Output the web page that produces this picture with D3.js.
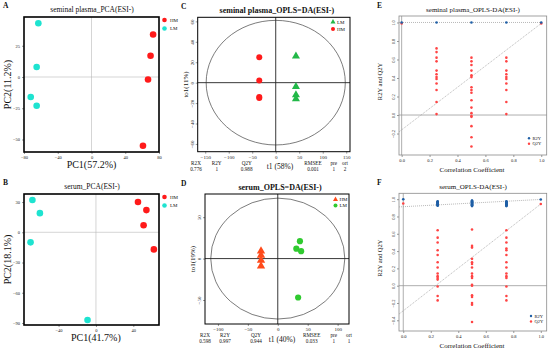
<!DOCTYPE html>
<html>
<head>
<meta charset="utf-8">
<script src="https://cdn.jsdelivr.net/npm/d3@7"></script>
<style>
body { margin: 0; background: #fff; }
svg { font-family: "Liberation Serif", "DejaVu Serif", serif; }
</style>
</head>
<body>
<div id="chart"></div>
<script>
//////////
// Data //
//////////

// A: seminal plasma PCA, [PC1, PC2]
var spPcaHM = [[73, 34], [70, 17], [67, -2], [61, -55]];
var spPcaLM = [[-63, 43], [-65, 8], [-72, -16], [-65, -23]];
// B: serum PCA
var sePcaHM = [[45, 30], [54, 22], [51, 7], [62, -17]];
var sePcaLM = [[-68, 32], [-60, 19], [-70, -10], [-9, -87]];

// C: seminal plasma OPLS-DA, [t1, to1]
var spOplsHM = [[-35, 25], [-35, 2], [-35, -14], [-35, -15]];
var spOplsLM = [[43, 26], [43, -4], [43, -12], [43, -16]];
var spStatNames = ["R2X", "R2Y", "Q2Y", "RMSEE", "pre", "ort"];
var spStatValues = ["0.776", "1", "0.988", "0.001", "1", "2"];
// D: serum OPLS-DA
var seOplsHM = [[-28, 9], [-28, 4], [-28, -2], [-28, -9]];
var seOplsLM = [[37, 21], [31, 12], [39, 9], [34, -47]];
var seStatNames = ["R2X", "R2Y", "Q2Y", "RMSEE", "pre", "ort"];
var seStatValues = ["0.598", "0.997", "0.944", "0.033", "1", "1"];

// E: seminal plasma permutation test, x = correlation coefficient
var permX = [0, 0.25, 0.5, 0.75, 1];
var eR2Y = [[1.0], [1.0], [1.0], [1.0], [1.0]];
var eQ2Y = [
  [0.99],
  [0.72, 0.68, 0.62, 0.58, 0.48, 0.44, 0.41, 0.39, 0.34, 0.27, 0.14, 0.01],
  [0.62, 0.58, 0.54, 0.48, 0.43, 0.41, 0.30, 0.27, 0.24, 0.16, 0.08, 0.02, -0.01, -0.02, -0.12, -0.24, -0.34],
  [0.62, 0.58, 0.48, 0.44, 0.41, 0.39, 0.34, 0.27, 0.14, 0.01],
  [0.99]
];
var eR2YLine = [1.0, 1.0];     // value at x=0, value at x=1
var eQ2YLine = [-0.16, 0.99];

// F: serum permutation test
var fR2Y = [
  [1.0],
  [0.975, 0.97, 0.965, 0.96, 0.955, 0.95, 0.945, 0.94, 0.935, 0.93, 0.925],
  [0.985, 0.98, 0.975, 0.97, 0.965, 0.96, 0.955, 0.95, 0.945, 0.94, 0.935, 0.93, 0.925, 0.92],
  [0.975, 0.97, 0.965, 0.96, 0.955, 0.95, 0.945, 0.94, 0.935, 0.93, 0.925, 0.92],
  [0.997]
];
var fQ2Y = [
  [0.95],
  [0.64, 0.555, 0.50, 0.41, 0.355, 0.27, 0.21, 0.14, 0.11, 0.09, 0.07, -0.01, -0.12, -0.17],
  [0.65, 0.46, 0.44, 0.31, 0.27, 0.25, 0.21, 0.14, 0.11, 0.09, 0.01, 0.0, -0.11, -0.13, -0.20, -0.22, -0.42],
  [0.64, 0.555, 0.50, 0.43, 0.41, 0.355, 0.27, 0.21, 0.14, 0.11, 0.09, -0.01, -0.12, -0.17],
  [0.944]
];
var fR2YLine = [0.913, 0.997];
var fQ2YLine = [-0.29, 0.944];

////////////
// Colors //
////////////
var red = "#ff1a1a", cyan = "#1ee3d0", green = "#22b848", orange = "#ff4a1a",
    lgreen = "#2fca2f", blue = "#1f5fa6", qred = "#ff4444";

var svg = d3.select("#chart").append("svg")
    .attr("width", 550)
    .attr("height", 349);

svg.append("rect").attr("width", 550).attr("height", 349).attr("fill", "#fff");

function txt(t, x, y, size, opts) {
  opts = opts || {};
  var el = svg.append("text")
      .attr("x", x).attr("y", y)
      .attr("font-size", size)
      .attr("text-anchor", opts.anchor || "middle")
      .attr("fill", "#111")
      .text(t);
  if (opts.bold) el.attr("font-weight", "bold");
  if (opts.rotate) el.attr("transform", "rotate(-90," + x + "," + y + ")");
  return el;
}

// style an axis group: small serif ticks, no domain line
function styleAxis(sel, size, rotateY) {
  sel.attr("font-family", null).attr("font-size", size);
  sel.select(".domain").remove();
  sel.selectAll("line").attr("stroke", "#333").attr("stroke-width", 0.5);
  sel.selectAll("text").attr("fill", "#222");
  if (rotateY) {
    sel.selectAll("text")
        .attr("x", 0).attr("y", -4).attr("dy", 0)
        .attr("text-anchor", "middle")
        .attr("transform", "rotate(-90)");
  }
}

function fmt(d) { return d < 0 ? "\u2212" + Math.abs(d) : "" + d; }

function drawAxes(x, y, xt, yt, size, rotateY, xf, yf) {
  var b = y.range()[0], l = x.range()[0];
  svg.append("g")
      .attr("transform", "translate(0," + b + ")")
      .call(d3.axisBottom(x).tickValues(xt).tickSize(2).tickPadding(1.5).tickFormat(xf || fmt))
      .call(styleAxis, size, false);
  svg.append("g")
      .attr("transform", "translate(" + l + ",0)")
      .call(d3.axisLeft(y).tickValues(yt).tickSize(2).tickPadding(2).tickFormat(yf || fmt))
      .call(styleAxis, size, rotateY);
}

function box(x, y, color, w) {
  var xr = x.range(), yr = y.range();
  svg.append("rect")
      .attr("x", xr[0]).attr("y", yr[1])
      .attr("width", xr[1] - xr[0]).attr("height", yr[0] - yr[1])
      .attr("fill", "none").attr("stroke", color).attr("stroke-width", w);
}

function zeroLines(x, y, color, w) {
  var xr = x.range(), yr = y.range();
  svg.append("line").attr("x1", x(0)).attr("x2", x(0)).attr("y1", yr[0]).attr("y2", yr[1])
      .attr("stroke", color).attr("stroke-width", w);
  svg.append("line").attr("x1", xr[0]).attr("x2", xr[1]).attr("y1", y(0)).attr("y2", y(0))
      .attr("stroke", color).attr("stroke-width", w);
}

function dots(data, x, y, r, color) {
  svg.append("g").selectAll("circle")
      .data(data)
    .enter().append("circle")
      .attr("cx", function(d) { return x(d[0]); })
      .attr("cy", function(d) { return y(d[1]); })
      .attr("r", r)
      .attr("fill", color);
}

function tris(data, x, y, size, color) {
  svg.append("g").selectAll("path")
      .data(data)
    .enter().append("path")
      .attr("d", d3.symbol().type(d3.symbolTriangle).size(size))
      .attr("transform", function(d) { return "translate(" + x(d[0]) + "," + y(d[1]) + ")"; })
      .attr("fill", color);
}

// legend glyphs sit at pixel positions
function legTri(cx, cy, color) {
  svg.append("path").attr("d", d3.symbol().type(d3.symbolTriangle).size(11))
      .attr("transform", "translate(" + cx + "," + cy + ")").attr("fill", color);
}
function legDot(cx, cy, r, color) {
  svg.append("circle").attr("cx", cx).attr("cy", cy).attr("r", r).attr("fill", color);
}

////////////////////
// PCA panels A/B //
////////////////////
function pcaPanel(o) {
  var x = d3.scaleLinear().domain(o.xd).range([24, 159]);
  var y = d3.scaleLinear().domain(o.yd).range(o.yr);
  zeroLines(x, y, "#b8b8b8", 0.6);
  drawAxes(x, y, o.xt, o.yt, 4.5, false);
  box(x, y, "#000", 1.6);
  dots(o.hm, x, y, 3.3, red);
  dots(o.lm, x, y, 3.3, cyan);
  // legend
  var ly = o.yr[1] + 3;
  legDot(164.5, ly, 2.3, red);
  legDot(164.5, ly + 8.5, 2.3, cyan);
  txt("HM", 170, ly + 1.8, 5, {anchor: "start"});
  txt("LM", 170, ly + 10.3, 5, {anchor: "start"});
  txt(o.title, 92, o.yr[1] - 5, 7.5);
  txt(o.letter, 3, o.yr[1] - 9, 7.5, {anchor: "start", bold: true});
  txt(o.xlab, x(0), o.yr[0] + 16, 10);
  txt(o.ylab, 11, (o.yr[0] + o.yr[1]) / 2, 10, {rotate: true});
}

pcaPanel({xd: [-80, 80], yd: [-60, 48], yr: [152, 17], xt: [-80, -40, 0, 40, 80], yt: [-50, -25, 0, 25],
  hm: spPcaHM, lm: spPcaLM, title: "seminal plasma_PCA(ESI-)", letter: "A",
  xlab: "PC1(57.2%)", ylab: "PC2(11.2%)"});
pcaPanel({xd: [-77, 67.5], yd: [-92, 38], yr: [325, 194], xt: [-40, 0, 40], yt: [-90, -60, -30, 0, 30],
  hm: sePcaHM, lm: sePcaLM, title: "serum_PCA(ESI-)", letter: "B",
  xlab: "PC1(41.7%)", ylab: "PC2(18.1%)"});

/////////////////////////
// OPLS-DA panels C/D //
/////////////////////////
function oplsPanel(o) {
  var x = d3.scaleLinear().domain(o.xd).range(o.xr);
  var y = d3.scaleLinear().domain(o.yd).range(o.yr);
  svg.append("ellipse")
      .attr("cx", x(0)).attr("cy", y(0))
      .attr("rx", x(o.ell[0]) - x(0)).attr("ry", y(0) - y(o.ell[1]))
      .attr("fill", "none").attr("stroke", "#444").attr("stroke-width", 0.7);
  zeroLines(x, y, "#222", 0.9);
  drawAxes(x, y, o.xt, o.yt, 5, true);
  box(x, y, "#000", 1);
  // stats rows
  var b = o.yr[0];
  o.statX.forEach(function(sx, i) {
    txt(o.names[i], sx, b + 13, 5.2);
    txt(o.values[i], sx, b + 19, 5.2);
  });
  txt(o.xlab, o.xlabX, b + 17.5, 7.5);
  txt(o.ylab, o.xr[0] - 10, (o.yr[0] + o.yr[1]) / 2, 7, {rotate: true});
  txt(o.title, (o.xr[0] + o.xr[1]) / 2 + 3, o.yr[1] - 4, 8, {bold: true});
  return {x: x, y: y};
}

var c = oplsPanel({xd: [-166, 158], xr: [197.7, 350], yd: [-67.6, 64], yr: [151.7, 17.3],
  xt: [-150, -100, -50, 0, 50, 100, 150], yt: [-60, -40, -20, 0, 20, 40, 60], ell: [148, 61],
  names: spStatNames, values: spStatValues, statX: [196, 216.7, 246.7, 313, 333.7, 345],
  xlab: "t1 (58%)", xlabX: 280, ylab: "to1(11%)", title: "seminal plasma_OPLS=DA(ESI-)"});
dots(spOplsHM, c.x, c.y, 3, red);
tris(spOplsLM, c.x, c.y, 28, green);
legTri(333, 22, green);
legDot(333, 29, 2, red);
txt("LM", 337, 23.8, 5, {anchor: "start"});
txt("HM", 337, 30.8, 5, {anchor: "start"});
txt("C", 181, 9, 7.5, {anchor: "start", bold: true});

var dd = oplsPanel({xd: [-121.6, 119], xr: [205, 349], yd: [-79, 78], yr: [324, 194],
  xt: [-100, -50, 0, 50, 100], yt: [-50, 0, 50], ell: [112, 73],
  names: seStatNames, values: seStatValues, statX: [205, 225, 256, 311.7, 333.7, 349],
  xlab: "t1 (40%)", xlabX: 282, ylab: "to1(19%)", title: "serum_OPLS=DA(ESI-)"});
tris(seOplsHM, dd.x, dd.y, 30, orange);
dots(seOplsLM, dd.x, dd.y, 3.1, lgreen);
legTri(335.5, 199.5, orange);
legDot(335.5, 205.5, 2, lgreen);
txt("HM", 339.5, 201.2, 5, {anchor: "start"});
txt("LM", 339.5, 207.2, 5, {anchor: "start"});
txt("D", 181, 186, 7.5, {anchor: "start", bold: true});

///////////////////////////////
// Permutation panels E / F //
///////////////////////////////
function permPanel(o) {
  var x = d3.scaleLinear().domain(o.xd).range([399, 546.7]);
  var y = d3.scaleLinear().domain(o.yd).range(o.yr);
  zeroLines(x, y, "#9a9a9a", 0.8);
  var f1 = d3.format(".1f");
  drawAxes(x, y, [0, 0.2, 0.4, 0.6, 0.8, 1.0], o.yt, 4.5, true,
      function(d) { return f1(d); }, function(d) { return d < 0 ? "\u2212" + f1(-d) : f1(d); });
  box(x, y, "#8a8a8a", 0.8);
  // regression lines
  [o.r2line, o.q2line].forEach(function(l) {
    var x0 = o.xd[0];
    svg.append("line")
        .attr("x1", x(x0)).attr("y1", y(l[0] + (l[1] - l[0]) * x0))
        .attr("x2", x(1)).attr("y2", y(l[1]))
        .attr("stroke", "#999").attr("stroke-width", 0.7).attr("stroke-dasharray", "1,1");
  });
  // points
  var r2 = [], q2 = [];
  permX.forEach(function(px, i) {
    o.r2[i].forEach(function(v) { r2.push([px, v]); });
    o.q2[i].forEach(function(v) { q2.push([px, v]); });
  });
  dots(q2, x, y, 1.3, qred);
  dots(r2, x, y, 1.3, blue);
  // legend
  legDot(o.leg[0], o.leg[1], 1.2, blue);
  legDot(o.leg[0], o.leg[1] + 5.5, 1.2, qred);
  txt("R2Y", o.leg[0] + 3.5, o.leg[1] + 1.6, 4.5, {anchor: "start"});
  txt("Q2Y", o.leg[0] + 3.5, o.leg[1] + 7.1, 4.5, {anchor: "start"});
  txt(o.title, 473, o.yr[1] - 4, 7);
  txt(o.letter, 377, o.yr[1] - 8, 7.5, {anchor: "start", bold: true});
  txt("Correlation Coefficient", 472, o.yr[0] + 17, 7);
  txt("R2Y and Q2Y", 382, (o.yr[0] + o.yr[1]) / 2 - 4, 6.5, {rotate: true});
}

permPanel({xd: [-0.019, 1.039], yd: [-0.432, 1.07], yr: [155, 16], yt: [-0.2, 0, 0.2, 0.4, 0.6, 0.8, 1.0],
  r2: eR2Y, q2: eQ2Y, r2line: eR2YLine, q2line: eQ2YLine, leg: [529, 138.3],
  title: "seminal plasma_OPLS-DA(ESI-)", letter: "E"});
permPanel({xd: [-0.031, 1.043], yd: [-0.524, 1.068], yr: [331, 193.3], yt: [-0.4, -0.2, 0, 0.2, 0.4, 0.6, 0.8, 1.0],
  r2: fR2Y, q2: fQ2Y, r2line: fR2YLine, q2line: fQ2YLine, leg: [531, 316],
  title: "serum_OPLS-DA(ESI-)", letter: "F"});
</script>
</body>
</html>
